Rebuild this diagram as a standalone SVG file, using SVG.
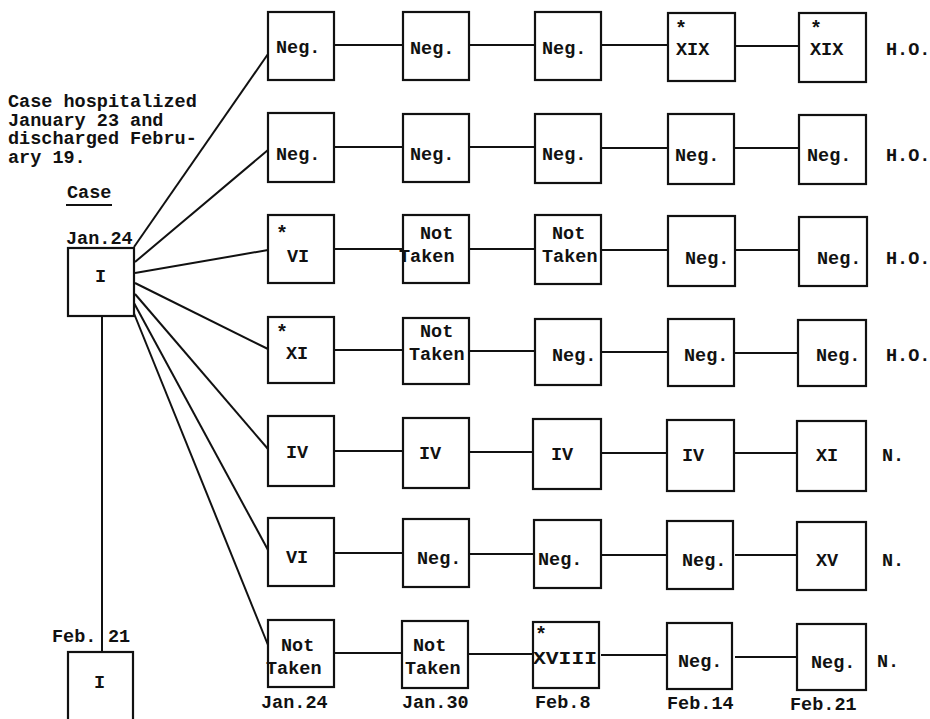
<svg xmlns="http://www.w3.org/2000/svg" width="930" height="719" viewBox="0 0 930 719">
<style>
text{font-family:"Liberation Mono","DejaVu Sans Mono",monospace;font-weight:bold;font-size:18.5px;fill:#111}
.box{fill:#fff;stroke:#111;stroke-width:2.2}
.ln{stroke:#111;stroke-width:2;fill:none}
.ast{font-size:20px}
</style>
<rect width="930" height="719" fill="#fff"/>

<g id="connectors">
  <line class="ln" x1="134" y1="247" x2="268" y2="54"/>
  <line class="ln" x1="135" y1="262" x2="268" y2="150"/>
  <line class="ln" x1="135" y1="273" x2="268" y2="250"/>
  <line class="ln" x1="135" y1="283" x2="268" y2="349"/>
  <line class="ln" x1="135" y1="294" x2="268" y2="449"/>
  <line class="ln" x1="134" y1="303" x2="268" y2="550"/>
  <line class="ln" x1="133" y1="311" x2="268" y2="645"/>
  <line class="ln" x1="102" y1="316" x2="102" y2="652"/>
  <path class="ln" d="M334 45H403M469 45H535M601 45H668M735 46H799"/>
  <path class="ln" d="M334 147H403M469 147H535M601 148H668M735 148H799"/>
  <path class="ln" d="M334 249H403M469 249H535M601 250H668M735 250H799"/>
  <path class="ln" d="M334 350H403M469 351H535M601 352H668M735 353H799"/>
  <path class="ln" d="M334 451H403M469 452H535M601 453H668M735 453H799"/>
  <path class="ln" d="M334 553H403M469 554H535M601 555H668M735 555H799"/>
  <path class="ln" d="M334 653H403M469 654H535M601 655H668M735 657H799"/>
</g>

<g id="note">
  <text x="8" y="107">Case hospitalized</text>
  <text x="8" y="126">January 23 and</text>
  <text x="8" y="144">discharged Febru-</text>
  <text x="8" y="163">ary 19.</text>
  <text x="67" y="198">Case</text>
  <line x1="66" y1="205" x2="112" y2="205" stroke="#111" stroke-width="2"/>
</g>

<g id="case-jan24">
  <text x="66" y="244">Jan.24</text>
  <rect class="box" x="68" y="248" width="66" height="68"/>
  <text x="95" y="282">I</text>
</g>
<g id="case-feb21">
  <text x="52" y="642">Feb.</text>
  <text x="108" y="642">21</text>
  <rect class="box" x="68" y="652" width="65" height="80"/>
  <text x="94" y="688">I</text>
</g>

<g id="r1c1"><rect class="box" x="268" y="12" width="66" height="68"/><text x="276" y="53">Neg.</text></g>
<g id="r1c2"><rect class="box" x="403" y="12" width="66" height="68"/><text x="410" y="54">Neg.</text></g>
<g id="r1c3"><rect class="box" x="535" y="12" width="66" height="68"/><text x="542" y="54">Neg.</text></g>
<g id="r1c4"><rect class="box" x="668" y="13" width="67" height="68"/><text class="ast" x="675" y="35">*</text><text x="676" y="55">XIX</text></g>
<g id="r1c5"><rect class="box" x="799" y="13" width="67" height="69"/><text class="ast" x="810" y="35">*</text><text x="810" y="55">XIX</text></g>
<text id="r1lbl" x="886" y="55">H.O.</text>

<g id="r2c1"><rect class="box" x="268" y="113" width="66" height="69"/><text x="276" y="160">Neg.</text></g>
<g id="r2c2"><rect class="box" x="403" y="114" width="66" height="68"/><text x="410" y="160">Neg.</text></g>
<g id="r2c3"><rect class="box" x="535" y="114" width="66" height="69"/><text x="542" y="160">Neg.</text></g>
<g id="r2c4"><rect class="box" x="668" y="114" width="66" height="70"/><text x="675" y="161">Neg.</text></g>
<g id="r2c5"><rect class="box" x="799" y="115" width="67" height="69"/><text x="807" y="161">Neg.</text></g>
<text id="r2lbl" x="886" y="161">H.O.</text>

<g id="r3c1"><rect class="box" x="268" y="215" width="66" height="68"/><text class="ast" x="276" y="240">*</text><text x="287" y="262">VI</text></g>
<g id="r3c2"><rect class="box" x="403" y="215" width="66" height="68"/><text x="420" y="239">Not</text><text x="399" y="262">Taken</text></g>
<g id="r3c3"><rect class="box" x="535" y="215" width="66" height="69"/><text x="552" y="239">Not</text><text x="542" y="262">Taken</text></g>
<g id="r3c4"><rect class="box" x="668" y="216" width="67" height="70"/><text x="685" y="264">Neg.</text></g>
<g id="r3c5"><rect class="box" x="799" y="217" width="68" height="69"/><text x="817" y="264">Neg.</text></g>
<text id="r3lbl" x="886" y="264">H.O.</text>

<g id="r4c1"><rect class="box" x="268" y="317" width="66" height="66"/><text class="ast" x="276" y="339">*</text><text x="286" y="359">XI</text></g>
<g id="r4c2"><rect class="box" x="403" y="318" width="66" height="66"/><text x="420" y="337">Not</text><text x="409" y="360">Taken</text></g>
<g id="r4c3"><rect class="box" x="535" y="319" width="66" height="66"/><text x="552" y="361">Neg.</text></g>
<g id="r4c4"><rect class="box" x="668" y="319" width="66" height="67"/><text x="684" y="361">Neg.</text></g>
<g id="r4c5"><rect class="box" x="798" y="320" width="68" height="66"/><text x="816" y="361">Neg.</text></g>
<text id="r4lbl" x="886" y="361">H.O.</text>

<g id="r5c1"><rect class="box" x="268" y="416" width="66" height="70"/><text x="286" y="458">IV</text></g>
<g id="r5c2"><rect class="box" x="403" y="418" width="66" height="70"/><text x="419" y="459">IV</text></g>
<g id="r5c3"><rect class="box" x="533" y="419" width="68" height="70"/><text x="551" y="460">IV</text></g>
<g id="r5c4"><rect class="box" x="667" y="420" width="67" height="71"/><text x="682" y="461">IV</text></g>
<g id="r5c5"><rect class="box" x="797" y="421" width="69" height="70"/><text x="816" y="461">XI</text></g>
<text id="r5lbl" x="882" y="461">N.</text>

<g id="r6c1"><rect class="box" x="268" y="518" width="66" height="68"/><text x="286" y="563">VI</text></g>
<g id="r6c2"><rect class="box" x="403" y="519" width="66" height="68"/><text x="417" y="564">Neg.</text></g>
<g id="r6c3"><rect class="box" x="534" y="520" width="67" height="68"/><text x="538" y="565">Neg.</text></g>
<g id="r6c4"><rect class="box" x="667" y="521" width="66" height="68"/><text x="682" y="566">Neg.</text></g>
<g id="r6c5"><rect class="box" x="797" y="522" width="69" height="68"/><text x="816" y="566">XV</text></g>
<text id="r6lbl" x="882" y="566">N.</text>

<g id="r7c1"><rect class="box" x="268" y="620" width="66" height="67"/><text x="281" y="651">Not</text><text x="266" y="674">Taken</text></g>
<g id="r7c2"><rect class="box" x="402" y="621" width="66" height="67"/><text x="413" y="651">Not</text><text x="405" y="674">Taken</text></g>
<g id="r7c3"><rect class="box" x="533" y="622" width="66" height="66"/><text class="ast" x="535" y="641">*</text><text x="533" y="664" textLength="64" lengthAdjust="spacingAndGlyphs">XVIII</text></g>
<g id="r7c4"><rect class="box" x="667" y="623" width="65" height="66"/><text x="678" y="667">Neg.</text></g>
<g id="r7c5"><rect class="box" x="797" y="624" width="69" height="66"/><text x="811" y="668">Neg.</text></g>
<text id="r7lbl" x="877" y="667">N.</text>

<g id="dates">
  <text x="261" y="708">Jan.24</text>
  <text x="402" y="708">Jan.30</text>
  <text x="535" y="708">Feb.8</text>
  <text x="667" y="709">Feb.14</text>
  <text x="790" y="710">Feb.21</text>
</g>
</svg>
